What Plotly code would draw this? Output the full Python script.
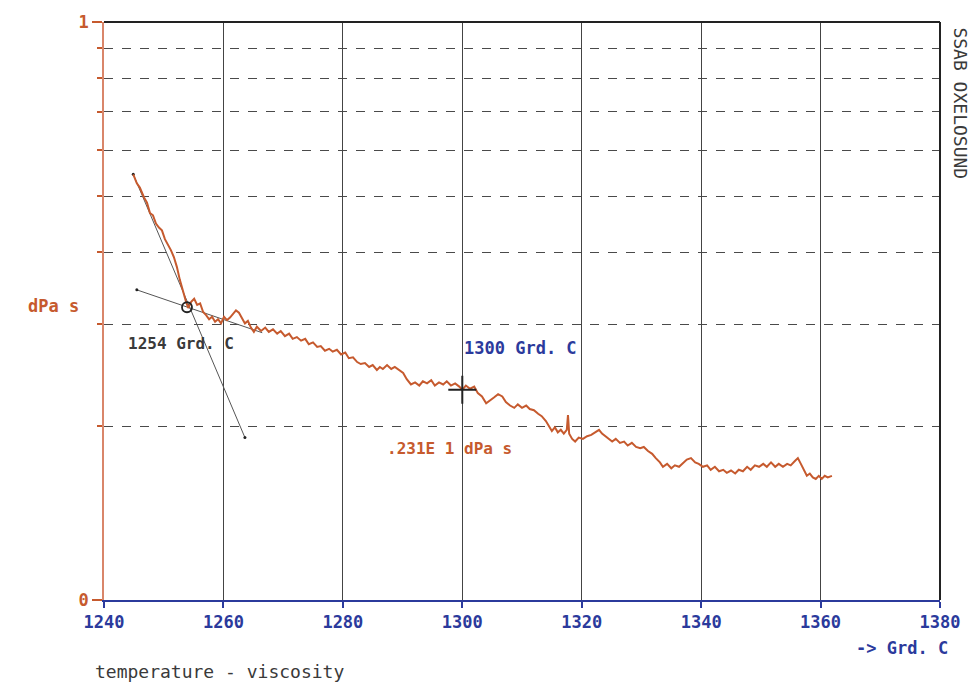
import plotly.graph_objects as go

# ---- data ----
temperature = [1244.9,1245.5,1246.0,1246.7,1247.2,1247.7,1248.2,1248.7,1249.2,1249.7,
1250.2,1250.7,1251.2,1251.7,1252.2,1252.7,1253.2,1253.7,1254.1,1254.6,
1255.1,1255.6,1256.1,1256.6,1257.1,1257.6,1258.1,1258.6,1259.1,1259.6,
1260.1,1260.6,1261.1,1261.6,1262.1,1262.6,1263.1,1263.6,1264.1,1264.6,
1265.1,1265.6,1266.3,1267.0,1267.6,1268.3,1269.0,1269.6,1270.3,1271.0,
1271.6,1272.3,1273.0,1273.7,1274.3,1275.0,1275.7,1276.3,1277.0,1277.7,
1278.3,1279.0,1279.7,1280.4,1281.0,1281.7,1282.4,1283.0,1283.7,1284.4,
1285.0,1285.7,1286.2,1286.7,1287.4,1288.1,1288.7,1289.4,1290.1,1290.7,
1291.4,1292.1,1292.8,1293.4,1294.1,1294.8,1295.4,1296.1,1296.8,1297.4,
1298.1,1298.8,1299.5,1300.0,1300.6,1301.3,1302.0,1302.6,1303.3,1304.0,
1304.6,1305.3,1306.0,1306.7,1307.3,1308.0,1308.7,1309.3,1310.0,1310.7,
1311.3,1312.0,1312.7,1313.3,1314.0,1314.5,1315.0,1315.5,1316.0,1316.5,
1317.0,1317.5,1317.7,1317.9,1318.4,1318.9,1319.5,1320.2,1320.9,1321.6,
1322.2,1322.9,1323.4,1323.9,1324.4,1325.1,1325.7,1326.4,1327.1,1327.7,
1328.4,1329.1,1329.8,1330.4,1331.1,1331.8,1332.4,1333.1,1333.6,1334.3,
1335.0,1335.6,1336.3,1337.0,1337.6,1338.3,1339.0,1339.6,1340.3,1341.0,
1341.6,1342.3,1343.0,1343.7,1344.3,1345.0,1345.7,1346.3,1347.0,1347.7,
1348.3,1349.0,1349.7,1350.4,1351.0,1351.7,1352.4,1353.0,1353.7,1354.4,
1355.0,1355.7,1356.2,1356.7,1357.2,1357.7,1358.2,1358.7,1359.2,1359.7,
1360.2,1360.7,1361.2,1361.9]

viscosity = [5.45,5.26,5.17,4.97,4.87,4.67,4.63,4.48,4.41,4.36,
4.21,4.13,4.03,3.92,3.77,3.58,3.42,3.29,3.20,3.28,
3.32,3.24,3.26,3.15,3.11,3.06,3.09,3.03,3.06,3.01,
3.09,3.05,3.08,3.12,3.17,3.14,3.08,3.01,3.04,2.96,
2.91,2.97,2.92,2.96,2.91,2.94,2.89,2.92,2.86,2.89,
2.83,2.85,2.81,2.83,2.77,2.79,2.74,2.75,2.70,2.72,
2.69,2.71,2.66,2.68,2.62,2.63,2.58,2.56,2.57,2.53,
2.55,2.50,2.53,2.51,2.55,2.51,2.53,2.50,2.47,2.41,
2.36,2.38,2.35,2.39,2.37,2.40,2.35,2.38,2.36,2.39,
2.35,2.37,2.34,2.31,2.35,2.32,2.34,2.28,2.25,2.19,
2.21,2.24,2.27,2.25,2.20,2.17,2.15,2.18,2.15,2.17,
2.14,2.13,2.10,2.08,2.04,2.00,1.96,1.99,1.95,1.97,
1.94,1.97,2.09,1.94,1.90,1.88,1.91,1.90,1.92,1.93,
1.95,1.97,1.94,1.92,1.90,1.88,1.90,1.87,1.88,1.85,
1.87,1.84,1.83,1.84,1.81,1.79,1.76,1.73,1.70,1.72,
1.69,1.71,1.70,1.73,1.75,1.76,1.73,1.72,1.70,1.71,
1.68,1.70,1.67,1.68,1.66,1.675,1.655,1.68,1.67,1.70,
1.68,1.71,1.70,1.72,1.70,1.73,1.70,1.72,1.70,1.72,
1.71,1.74,1.76,1.72,1.68,1.64,1.655,1.63,1.62,1.64,
1.62,1.64,1.63,1.64]

steep_T = [1244.9, 1263.6]
steep_V = [5.45, 1.91]
shallow_T = [1245.5, 1266.5]
shallow_V = [3.44, 2.90]

onset_T = [1253.9]
onset_V = [3.21]
ref_T = [1300.0]
ref_V = [2.31]

x_ticks = [1240, 1260, 1280, 1300, 1320, 1340, 1360, 1380]
y_major = [1, 10]
y_major_text = ["0", "1"]
y_minor = [2, 3, 4, 5, 6, 7, 8, 9]

# ---- styling ----
FONT = "DejaVu Sans Mono"
ORANGE = "#c65a2e"
BLUE = "#2b3a9c"
DARK = "#3a3a3a"
INK = "#222222"

fig = go.Figure()

fig.add_trace(go.Scatter(x=steep_T, y=steep_V, mode="lines+markers",
                         line=dict(color="#555555", width=1),
                         marker=dict(size=3, color=INK), hoverinfo="skip"))
fig.add_trace(go.Scatter(x=shallow_T, y=shallow_V, mode="lines",
                         line=dict(color="#555555", width=1), hoverinfo="skip"))
fig.add_trace(go.Scatter(x=shallow_T[:1], y=shallow_V[:1], mode="markers",
                         marker=dict(size=3, color=INK), hoverinfo="skip"))
fig.add_trace(go.Scatter(x=temperature, y=viscosity, mode="lines",
                         line=dict(color=ORANGE, width=2)))
fig.add_trace(go.Scatter(x=onset_T, y=onset_V, mode="markers",
                         marker=dict(symbol="circle-open", size=10, color=INK,
                                     line=dict(color=INK, width=1.8))))
fig.add_trace(go.Scatter(x=ref_T, y=ref_V, mode="markers",
                         marker=dict(symbol="cross-thin", size=20, color=INK,
                                     line=dict(color=INK, width=2))))

fig.update_layout(
    width=979, height=686,
    margin=dict(l=104, r=39, t=20, b=86),
    paper_bgcolor="white", plot_bgcolor="white",
    showlegend=False,
    font=dict(family=FONT, size=16),
    xaxis=dict(range=[1240, 1380], tickmode="array", tickvals=x_ticks,
               ticktext=[str(v) for v in x_ticks],
               tickfont=dict(family=FONT, size=17, color=BLUE, weight="bold"),
               ticks="outside", ticklen=6, tickcolor=BLUE, tickwidth=1.5,
               showgrid=True, gridcolor="#444444", gridwidth=1.2,
               showline=True, linecolor=BLUE, linewidth=2, zeroline=False),
    yaxis=dict(type="log", range=[0, 1], tickmode="array", tickvals=y_major,
               ticktext=y_major_text,
               tickfont=dict(family=FONT, size=17, color=ORANGE, weight="bold"),
               ticks="outside", ticklen=10, tickcolor=ORANGE, tickwidth=1.5,
               showgrid=False,
               showline=True, linecolor="#d9866a", linewidth=1.6, zeroline=False,
               minor=dict(tickmode="array", tickvals=y_minor, ticks="outside",
                          ticklen=5, tickcolor=ORANGE, tickwidth=2,
                          showgrid=True, gridcolor="#4a4a4a", gridwidth=1.2,
                          griddash="dash")),
    shapes=[
        dict(type="line", xref="paper", yref="paper", x0=0, x1=1, y0=1, y1=1,
             line=dict(color=INK, width=2)),
        dict(type="line", xref="paper", yref="paper", x0=1, x1=1, y0=0, y1=1,
             line=dict(color=INK, width=2)),
    ],
)

ann = [
    dict(text="dPa s", xref="paper", yref="paper", x=-0.061, y=0.509,
         font=dict(color=ORANGE, size=17, weight="bold"), xanchor="center", yanchor="middle"),
    dict(text="1254 Grd. C", xref="x", yref="y", x=1243.7, y=0.443,
         font=dict(color=DARK, size=16, weight="bold"), xanchor="left", yanchor="middle"),
    dict(text="1300 Grd. C", xref="x", yref="y", x=1300.0, y=0.436,
         font=dict(color=BLUE, size=17, weight="bold"), xanchor="left", yanchor="middle"),
    dict(text=".231E 1 dPa s", xref="x", yref="y", x=1287.1, y=0.262,
         font=dict(color=ORANGE, size=16, weight="bold"), xanchor="left", yanchor="middle"),
    dict(text="-> Grd. C", xref="paper", yref="paper", x=1.012, y=-0.083,
         font=dict(color=BLUE, size=17, weight="bold"), xanchor="right", yanchor="middle"),
    dict(text="temperature - viscosity", xref="paper", yref="paper", x=-0.013, y=-0.124,
         font=dict(color=DARK, size=18), xanchor="left", yanchor="middle"),
    dict(text="SSAB OXELOSUND", xref="paper", yref="paper", x=1.024, y=0.859,
         textangle=90, font=dict(color=DARK, size=18), xanchor="center", yanchor="middle"),
]
for a in ann:
    a["showarrow"] = False
    a["font"]["family"] = FONT
fig.update_layout(annotations=ann)

fig.write_html("out.html")
